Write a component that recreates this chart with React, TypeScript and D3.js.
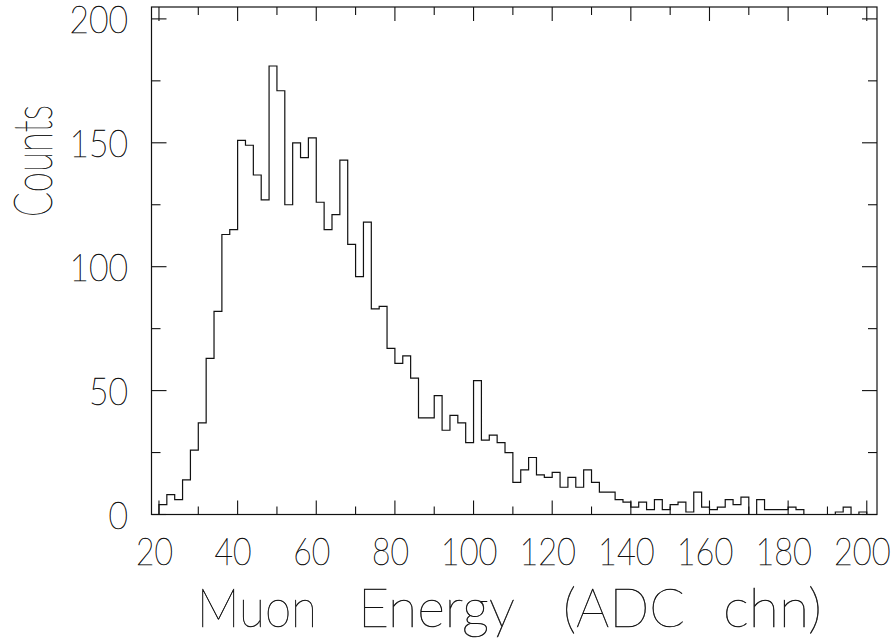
import * as d3 from 'd3';

// histogram: 2-ADC-channel bins starting at 20
const binStart = 20;
const binWidth = 2;
const counts = [
  4, 8, 6, 14, 26, 37, 63, 82, 113, 115,
  151, 149, 137, 127, 181, 171, 125, 150, 144, 152,
  126, 115, 121, 143, 109, 96, 118, 83, 84, 67,
  61, 64, 55, 39, 39, 48, 34, 40, 37, 29,
  54, 30, 32, 29, 25, 13, 18, 23, 16, 15,
  17, 11, 15, 11, 18, 13, 9, 9, 6, 5,
  3, 5, 2, 6, 2, 4, 5, 1, 9, 3,
  2, 3, 6, 4, 7, 0, 6, 2, 2, 2,
  3, 2, 0, 0, 0, 0, 1, 3, 0, 1,
];
const xMajorTicks = [20, 40, 60, 80, 100, 120, 140, 160, 180, 200];
const xMinorTicks = [30, 50, 70, 90, 110, 130, 150, 170, 190];
const yMajorTicks = [0, 50, 100, 150, 200];
const yMinorTicks = [25, 75, 125, 175];
const xTitleWords = ['Muon', 'Energy', '(ADC', 'chn)'];
const yTitle = 'Counts';

const W = 893;
const H = 640;
const left = 151.5;
const right = 877;
const top = 7;
const bottom = 514.5;
const ink = '#111';
const font = "Lato, 'Open Sans', 'DejaVu Sans', sans-serif";

// word spans of the x title (left edge, width) as laid out in the picture
const xTitleBoxes = [
  [197, 120],
  [358, 157],
  [563, 122],
  [723, 99],
];

const App = () => {
  const x = d3.scaleLinear().domain([18.1, 202.6]).range([left, right]);
  const y = d3.scaleLinear().domain([0, 204.8]).range([bottom, top]);

  let d = `M${x(binStart)},${y(0)}`;
  counts.forEach((c, i) => {
    d += `V${y(c)}H${x(binStart + (i + 1) * binWidth)}`;
  });
  d += `V${y(0)}`;

  const charW = 19.5;

  return (
    <svg
      width={W}
      height={H}
      style={{ position: 'absolute', left: 0, top: 0, background: '#fff' }}
      fontFamily={font}
    >
      <rect x={left} y={top} width={right - left} height={bottom - top} fill="none" stroke={ink} strokeWidth={1.2} />
      <g stroke={ink} strokeWidth={1.1}>
        {xMajorTicks.map(t => (
          <g key={'xM' + t}>
            <line x1={x(t)} x2={x(t)} y1={bottom} y2={bottom - 14} />
            <line x1={x(t)} x2={x(t)} y1={top} y2={top + 14} />
          </g>
        ))}
        {xMinorTicks.map(t => (
          <g key={'xm' + t}>
            <line x1={x(t)} x2={x(t)} y1={bottom} y2={bottom - 8} />
            <line x1={x(t)} x2={x(t)} y1={top} y2={top + 8} />
          </g>
        ))}
        {yMajorTicks.map(t => (
          <g key={'yM' + t}>
            <line x1={left} x2={left + 15} y1={y(t)} y2={y(t)} />
            <line x1={right} x2={right - 15} y1={y(t)} y2={y(t)} />
          </g>
        ))}
        {yMinorTicks.map(t => (
          <g key={'ym' + t}>
            <line x1={left} x2={left + 9} y1={y(t)} y2={y(t)} />
            <line x1={right} x2={right - 9} y1={y(t)} y2={y(t)} />
          </g>
        ))}
      </g>
      <path d={d} fill="none" stroke={ink} strokeWidth={1.2} />

      <g fill={ink} stroke={ink} strokeWidth={0.5} fontWeight={100} fontSize={38}>
        {xMajorTicks.map(t => {
          const s = String(t);
          const len = s.length * charW - 2;
          return (
            <text
              key={'xl' + t}
              x={x(t) - 4.5 - len / 2}
              y={565}
              textLength={len}
              lengthAdjust="spacingAndGlyphs"
            >
              {s}
            </text>
          );
        })}
        {yMajorTicks.map(t => {
          const s = String(t);
          const len = s.length * charW;
          return (
            <text
              key={'yl' + t}
              x={128 - len}
              y={y(t) + 14}
              textLength={len}
              lengthAdjust="spacingAndGlyphs"
            >
              {s}
            </text>
          );
        })}
      </g>

      <g fill={ink} stroke={ink} strokeWidth={0.5} fontWeight={100} fontSize={53}>
        {xTitleWords.map((w, i) => (
          <text
            key={w}
            x={xTitleBoxes[i][0]}
            y={627}
            textLength={xTitleBoxes[i][1]}
            lengthAdjust="spacingAndGlyphs"
          >
            {w}
          </text>
        ))}
        <text
          transform={`translate(52,${161}) rotate(-90)`}
          x={-56}
          y={0}
          textLength={112}
          lengthAdjust="spacingAndGlyphs"
        >
          {yTitle}
        </text>
      </g>
    </svg>
  );
};

export default App;
